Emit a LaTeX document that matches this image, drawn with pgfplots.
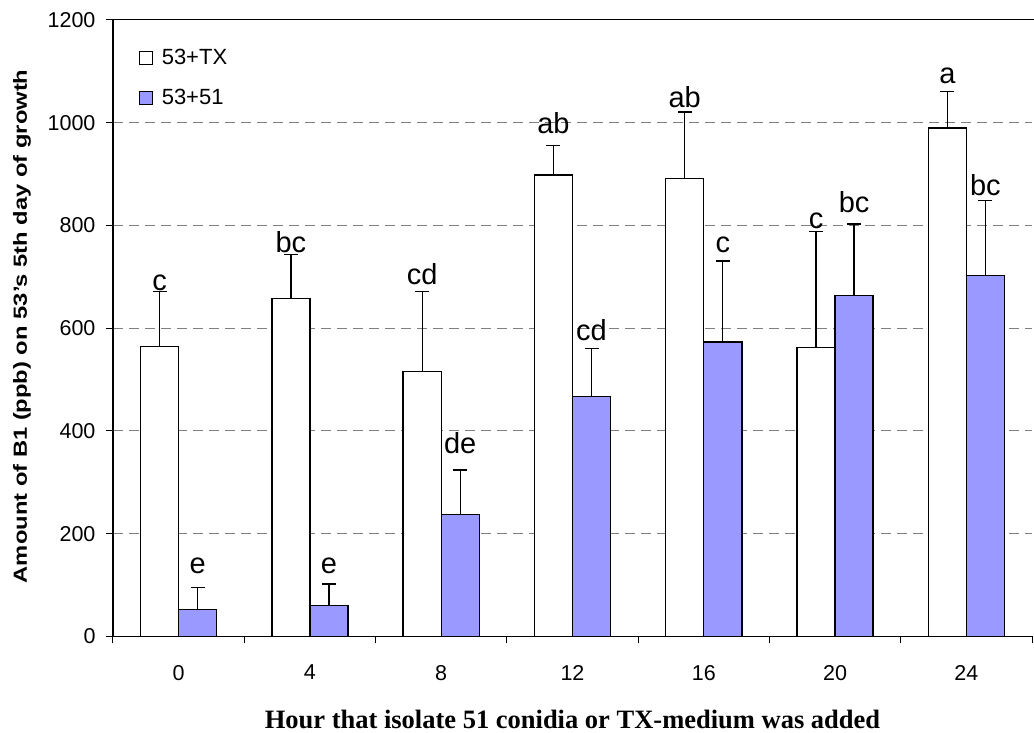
\documentclass[border=0pt]{standalone}
\usepackage{pgfplots}
\pgfplotsset{compat=1.18}
\usepackage{pgfplotstable}
\usepackage{fontspec}
\setmainfont{Liberation Sans}
\newfontfamily\timesfont{Liberation Serif}
\definecolor{barblue}{HTML}{9999FF}

\pgfplotstableread{
x tx txerr txlab txly ff fferr fflab ffly
0 565 106 c  674  52  43 e  122
1 658  86 bc 748  60  42 e  122
2 516 155 cd 686 237  87 de 357
3 898  58 ab 980 467  94 cd 577
4 891 130 ab 1029 573 158 c 748
5 562 226 c  795 664 139 bc 826
6 990  71 a  1076 703 145 bc 858
}\data

\begin{document}
\begin{tikzpicture}
\begin{axis}[name=ax, scale only axis, width=919pt, height=616.5pt,
  xmin=-0.5, xmax=6.5, ymin=0, ymax=1200,
  clip=false,
  axis x line*=bottom, axis y line*=left,
  axis line style={line width=1.2pt, black},
  xtick={0,...,6}, xticklabels={0,4,8,12,16,20,24},
  minor xtick={-0.5,0.5,...,6.5},
  ytick={0,200,...,1200},
  tick align=outside,
  major tick length=7pt, minor tick length=7pt,
  major x tick style={draw=none},
  tick style={line width=1pt, black},
  ymajorgrids,
  major grid style={gray, line width=1pt, dash pattern=on 10pt off 6pt},
  tick label style={font=\fontsize{21.5}{25}\selectfont, /pgf/number format/assume math mode=true, /pgf/number format/1000 sep={}},
  xticklabel style={yshift=-18pt},
  yticklabel style={xshift=-7pt},
  xlabel={\timesfont\bfseries\fontsize{26.5}{30}\selectfont Hour that isolate 51 conidia or TX-medium was added},
  xlabel style={at={(axis description cs:0.5,-0.149)}, anchor=base},
  ylabel={\scalebox{1.25}[1]{\bfseries\fontsize{19}{22}\selectfont Amount of B1 (ppb) on 53's 5th day of growth}},
  ylabel style={at={(axis description cs:-0.0936,0.503)}, anchor=base, rotate=0},
  legend style={at={(axis description cs:0.0286,0.953)}, anchor=north west, draw=none, fill=none, inner sep=0pt, outer sep=0pt, row sep=24pt, font=\fontsize{22}{26}\selectfont, nodes={inner sep=0pt, text height=16pt, text depth=0pt}},
  legend cell align=left,
  legend image code/.code={\draw[#1, line width=0.9pt, draw=black] (0pt,-7.5pt) rectangle (13pt,5.5pt); \path (21.4pt,0pt);},
]
\addplot[ybar, bar width=0.29, bar shift=-0.145, fill=white, draw=black, line width=1.3pt]
  table[x=x, y=tx]{\data};
\addplot[ybar, bar width=0.29, bar shift=0.145, fill=barblue, draw=black, line width=1.3pt]
  table[x=x, y=ff]{\data};
% error bar stems
\addplot[forget plot, only marks, mark=*, mark size=0.01pt, black,
  error bars/.cd, y dir=plus, y explicit, error mark=none,
  error bar style={draw=black, line width=1.3pt, solid}]
  table[x expr=\thisrow{x}-0.145, y=tx, y error=txerr]{\data};
\addplot[forget plot, only marks, mark=*, mark size=0.01pt, black,
  error bars/.cd, y dir=plus, y explicit, error mark=none,
  error bar style={draw=black, line width=1.3pt, solid}]
  table[x expr=\thisrow{x}+0.145, y=ff, y error=fferr]{\data};
% error bar caps
\addplot[forget plot, only marks, mark=-, mark size=7pt, black, mark options={line width=1.3pt, solid}]
  table[x expr=\thisrow{x}-0.145, y expr=\thisrow{tx}+\thisrow{txerr}]{\data};
\addplot[forget plot, only marks, mark=-, mark size=7pt, black, mark options={line width=1.3pt, solid}]
  table[x expr=\thisrow{x}+0.145, y expr=\thisrow{ff}+\thisrow{fferr}]{\data};
% significance letters
\addplot[forget plot, draw=none, mark=none, nodes near coords, point meta=explicit symbolic,
  nodes near coords style={anchor=base, inner sep=0pt, font=\fontsize{29}{33}\selectfont, text=black}]
  table[x expr=\thisrow{x}-0.145, y=txly, meta=txlab]{\data};
\addplot[forget plot, draw=none, mark=none, nodes near coords, point meta=explicit symbolic,
  nodes near coords style={anchor=base, inner sep=0pt, font=\fontsize{29}{33}\selectfont, text=black}]
  table[x expr=\thisrow{x}+0.145, y=ffly, meta=fflab]{\data};
\legend{53+TX, 53+51}
\draw[black, line width=1pt] (rel axis cs:0,1) -- ([xshift=2pt]rel axis cs:1,1);
\end{axis}
\pgfresetboundingbox
\path (ax.south west) ++(-113pt,-96.5pt) rectangle ++(1034pt,733pt);
\end{tikzpicture}
\end{document}
